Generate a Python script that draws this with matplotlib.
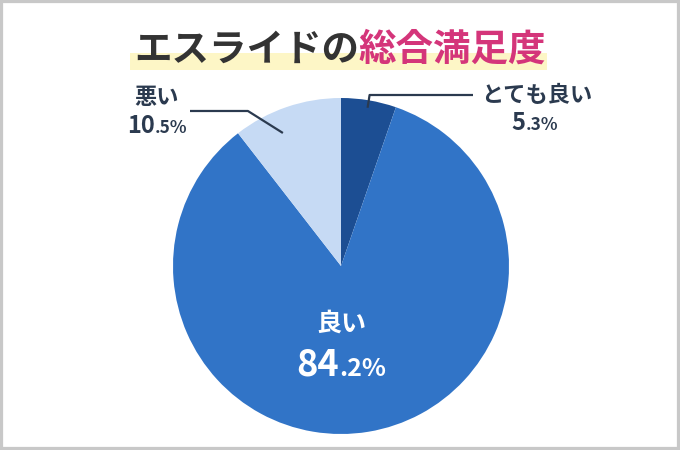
import numpy as np
import matplotlib
matplotlib.use("Agg")
import matplotlib.pyplot as plt
from matplotlib.patches import Rectangle

plt.rcParams['font.family'] = ['Noto Sans CJK JP', 'DejaVu Sans']

categories = ['とても良い', '良い', '悪い']
values = [5.3, 84.2, 10.5]
colors = ['#1c4e93', '#3174c7', '#c6daf4']
title_a = 'エスライドの'
title_b = '総合満足度'

W, H = 680, 450
fig = plt.figure(figsize=(W / 100, H / 100), dpi=100)
ax = fig.add_axes([0, 0, 1, 1])

cx, cy, R = 341, H - 266, 168
wedges, _ = ax.pie(values, colors=colors, startangle=90, counterclock=False,
                   center=(cx, cy), radius=R,
                   wedgeprops=dict(linewidth=0))
ax.set_xlim(0, W)
ax.set_ylim(0, H)
ax.set_aspect('equal')
ax.axis('off')

# border
fig.patches.append(Rectangle((0, 0), 1, 1, transform=fig.transFigure,
                             fill=False, edgecolor='#c8c8c8', linewidth=4.5, zorder=10))

# title highlight band
ax.add_patch(Rectangle((130, H - 70), 417, 17, facecolor='#fdf6c6', edgecolor='none', zorder=1))

fig.canvas.draw()
renderer = fig.canvas.get_renderer()


def row(parts, x, y, ha='center'):
    """parts: list of (text, size, color, weight). baseline-aligned pieces."""
    objs = []
    for t, s, c, wgt in parts:
        objs.append(ax.text(0, y, t, fontsize=s, color=c, fontweight=wgt,
                            va='baseline', ha='left', zorder=5))
    widths = [o.get_window_extent(renderer).width for o in objs]
    total = sum(widths)
    if ha == 'center':
        x0 = x - total / 2
    elif ha == 'left':
        x0 = x
    else:
        x0 = x - total
    for o, w in zip(objs, widths):
        o.set_x(x0)
        x0 += w
    return objs


navy = '#2b3a4f'
# title
row([(title_a, 27, '#333333', 'bold'), (title_b, 27, '#d4357a', 'bold')], 340, H - 61)

# inside label for 良い
row([(categories[1], 18, 'white', 'bold')], cx, H - 331)
row([('84', 26, 'white', 'bold'), ('.2%', 18, 'white', 'bold')], cx, H - 376)

# とても良い label
row([(categories[0], 16, navy, 'bold')], 537, H - 102)
row([('5', 17, navy, 'bold'), ('.3%', 12.5, navy, 'bold')], 535, H - 130)

# 悪い label
row([(categories[2], 16, navy, 'bold')], 157, H - 104)
row([('10', 17, navy, 'bold'), ('.5%', 12.5, navy, 'bold')], 157, H - 133)

# leader lines based on wedge mid-angles
cum = np.cumsum([0] + values)
mids = [90 - (cum[i] + cum[i + 1]) / 2 * 3.6 for i in range(len(values))]

a0 = np.deg2rad(mids[0])
p0 = (cx + 0.955 * R * np.cos(a0), cy + 0.955 * R * np.sin(a0))
ax.plot([p0[0], p0[0] + 2, 473], [p0[1], cy + R + 3, cy + R + 3],
        color=navy, lw=1.6, solid_capstyle='butt', zorder=6)

a2 = np.deg2rad(mids[2] + 4.7)
p2 = (cx + 0.864 * R * np.cos(a2), cy + 0.864 * R * np.sin(a2))
ax.plot([p2[0], p2[0] - 35, 190], [p2[1], p2[1] + 22, p2[1] + 22],
        color=navy, lw=1.6, solid_capstyle='butt', zorder=6)

fig.savefig('out.png', dpi=100)
